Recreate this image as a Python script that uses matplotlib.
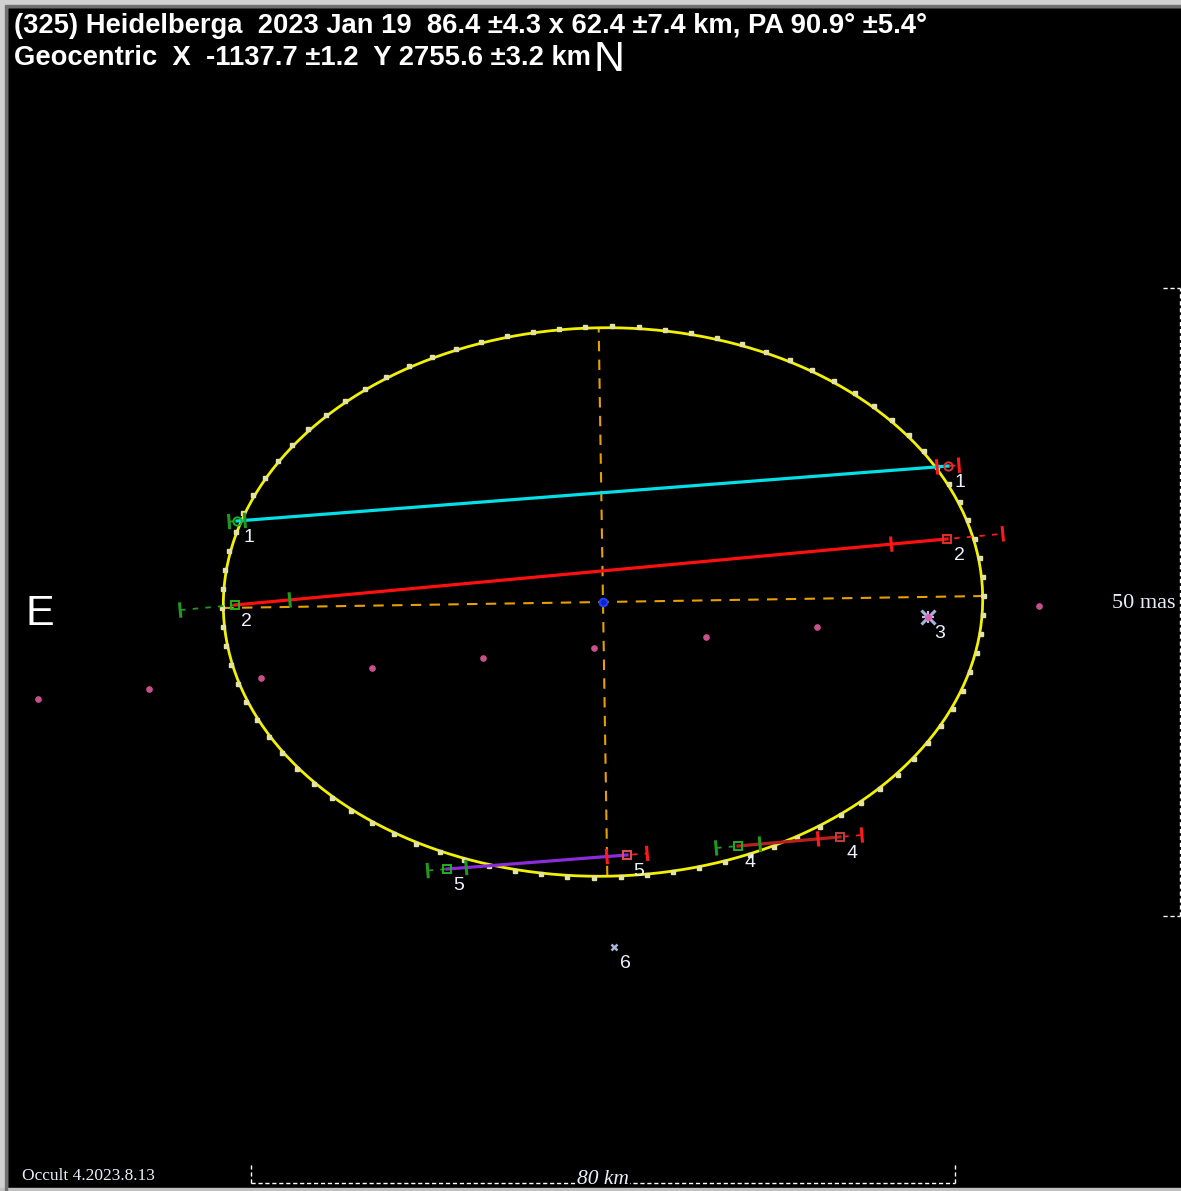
import numpy as np
import matplotlib
matplotlib.use('Agg')
import matplotlib.pyplot as plt
from matplotlib.patches import Rectangle

# ---- shape fit (km) ----
major_km = 86.4
minor_km = 62.4
pa_deg = 90.9

# ---- chords: disappearance / reappearance (km, west to the right, north up) ----
chord_ids = ['1', '2', '4', '5']
d_x = [-41.64, -41.87, 15.36, -17.75]
d_y = [9.22, -0.34, -27.76, -30.38]
r_x = [39.25, 39.14, 26.96, 2.73]
r_y = [15.47, 7.17, -26.73, -28.78]
d_err = [0.9, 6.26, 2.5, 2.2]
r_err = [1.25, 6.37, 2.5, 2.3]
chord_colors = ['#00e0e8', '#ff1010', '#b82020', '#8a2cd8']
end_marks = ['o', 's', 's', 's']
r_mark_colors = ['#e03030', '#e03030', '#c04040', '#e05050']

# ---- other observers ----
miss_ids = ['3', '6']
miss_x = [36.97, 1.25]
miss_y = [-1.71, -39.25]

# ---- star path points ----
path_x = [-64.28, -51.65, -38.91, -26.28, -13.65, -1.02, 11.72, 24.35, 36.97, 49.60]
path_y = [-11.04, -9.90, -8.65, -7.51, -6.37, -5.23, -3.98, -2.84, -1.71, -0.46]

# scale bars
km_bar = 80
mas_bar_km = 71.4

W, H = 1181, 1191
scale = 8.79          # px per km
cx, cy = 603, 602     # fit centre in px

fig = plt.figure(figsize=(W / 100, H / 100), dpi=100)
fig.patch.set_facecolor('black')
ax = fig.add_axes([0, 0, 1, 1])
ax.set_facecolor('black')
ax.set_xlim(-cx / scale, (W - cx) / scale)
ax.set_ylim((cy - H) / scale, cy / scale)
ax.axis('off')


def fpos(x, y):
    return x / W, 1 - y / H


# ellipse
a, b = major_km / 2, minor_km / 2
rot = np.radians(pa_deg - 90)
t = np.linspace(0, 2 * np.pi, 400)
ex = a * np.cos(t) * np.cos(rot) - b * np.sin(t) * np.sin(rot)
ey = a * np.cos(t) * np.sin(rot) + b * np.sin(t) * np.cos(rot)
ax.plot(ex, ey, color='#f2f200', lw=2.0, zorder=3)
tk = np.linspace(0, 2 * np.pi, 91)[:-1]
tx = (a + 0.15) * np.cos(tk) * np.cos(rot) - (b + 0.15) * np.sin(tk) * np.sin(rot)
ty = (a + 0.15) * np.cos(tk) * np.sin(rot) + (b + 0.15) * np.sin(tk) * np.cos(rot)
ax.plot(tx, ty, ls='none', marker='s', ms=3.4, color='#e2e2a4', zorder=4)

# axes of the ellipse
ax.plot([-a * np.cos(rot), a * np.cos(rot)], [-a * np.sin(rot), a * np.sin(rot)],
        color='#e8a000', lw=1.5, ls=(0, (5, 4)), zorder=2)
ax.plot([b * np.sin(rot), -b * np.sin(rot)], [-b * np.cos(rot), b * np.cos(rot)],
        color='#e8a000', lw=1.5, ls=(0, (5, 4)), zorder=2)
ax.plot([0], [0], marker='o', ms=5.5, mfc='#1020d0', mec='#2040ff', mew=1.5, zorder=6)

# path dots
ax.plot(path_x, path_y, ls='none', marker='o', ms=3.8, color='#c8508c', zorder=2)

# chords
for i in range(len(chord_ids)):
    p0 = np.array([d_x[i], d_y[i]])
    p1 = np.array([r_x[i], r_y[i]])
    u = (p1 - p0) / np.linalg.norm(p1 - p0)
    n = np.array([-u[1], u[0]]) * 0.7
    for p, err, col in [(p0, d_err[i], '#1f9a1f'), (p1, r_err[i], '#ff1a1a')]:
        lo, hi = p - err * u, p + err * u
        ax.plot([lo[0], hi[0]], [lo[1], hi[1]], color=col, lw=1.3, ls=(0, (3, 4)), zorder=5)
        for q in (lo, hi):
            ax.plot([q[0] - n[0], q[0] + n[0]], [q[1] - n[1], q[1] + n[1]],
                    color=col, lw=2.2, zorder=7)
    ax.plot([p0[0], p1[0]], [p0[1], p1[1]], color=chord_colors[i], lw=2.3, zorder=6)
    ax.plot(p0[0], p0[1], marker=end_marks[i], ms=6, mfc='none', mec='#1fb01f', mew=1.4, zorder=8)
    ax.plot(p1[0], p1[1], marker=end_marks[i], ms=6, mfc='none', mec=r_mark_colors[i], mew=1.4, zorder=8)
    for p in (p0, p1):
        ax.annotate(chord_ids[i], (p[0], p[1]), xytext=(8.6, -11.6), textcoords='offset points',
                    ha='center', va='center', color='#eef2ff', fontsize=14,
                    family='Liberation Sans', zorder=9)

# observers without a chord
ax.plot(miss_x[0], miss_y[0], marker='x', ms=10, mew=2.2, color='#a8b4dc', zorder=7)
ax.plot(miss_x[0], miss_y[0], marker='+', ms=9, mew=1.6, color='#b8c0e8', zorder=7)
ax.plot(miss_x[0], miss_y[0], marker='o', ms=4, color='#e060b0', zorder=8)
ax.plot(miss_x[1], miss_y[1], marker='x', ms=5, mew=1.8, color='#a8b4d8', zorder=7)
for i in range(len(miss_ids)):
    ax.annotate(miss_ids[i], (miss_x[i], miss_y[i]), xytext=(8.6, -11.6), textcoords='offset points',
                ha='center', va='center', color='#eef2ff', fontsize=14,
                family='Liberation Sans', zorder=9)

# km scale bar
yb = (cy - 1183) / scale
yt = (cy - 1163) / scale
ax.plot([-km_bar / 2, km_bar / 2], [yb, yb], color='white', lw=1, ls=(0, (3, 2)), zorder=5)
for xe in (-km_bar / 2, km_bar / 2):
    ax.plot([xe, xe], [yb, yt], color='white', lw=1, ls=(0, (3, 2)), zorder=5)
ax.text(0, (cy - 1180) / scale, '80 km', ha='center', va='center', color='#e8eef8',
        fontsize=15.5, family='Liberation Serif', style='italic',
        bbox=dict(facecolor='black', edgecolor='none', pad=1), zorder=6)

# mas scale bar
xv = (1180 - cx) / scale
xl = (1163 - cx) / scale
ax.plot([xv, xv], [-mas_bar_km / 2, mas_bar_km / 2], color='white', lw=1, ls=(0, (3, 2)), zorder=5)
for ye in (-mas_bar_km / 2, mas_bar_km / 2):
    ax.plot([xl, xv], [ye, ye], color='white', lw=1, ls=(0, (3, 2)), zorder=5)
ax.text((1112 - cx) / scale, (cy - 604) / scale, '50 mas', ha='left', va='center',
        color='#e8eef8', fontsize=16, family='Liberation Serif',
        bbox=dict(facecolor='black', edgecolor='none', pad=1), zorder=6)

# header text
hdr = dict(color='white', fontsize=19.7, fontweight='bold', family='Liberation Sans')
fig.text(*fpos(14, 26), '(325) Heidelberga  2023 Jan 19  86.4 \u00b14.3 x 62.4 \u00b17.4 km, PA 90.9\u00b0 \u00b15.4\u00b0',
         ha='left', va='center', **hdr)
fig.text(*fpos(14, 58), 'Geocentric  X  -1137.7 \u00b11.2  Y 2755.6 \u00b13.2 km',
         ha='left', va='center', **hdr)
fig.text(*fpos(609, 60), 'N', ha='center', va='center', color='white', fontsize=31, family='Liberation Sans')
fig.text(*fpos(40, 614), 'E', ha='center', va='center', color='white', fontsize=31, family='Liberation Sans')
fig.text(*fpos(22, 1176), 'Occult 4.2023.8.13', ha='left', va='center', color='#e8eef8',
         fontsize=12.5, family='Liberation Serif')

# window frame
fig.add_artist(Rectangle((0, 0), 7 / W, 1, transform=fig.transFigure, color='#d0d0d0', zorder=20))
fig.add_artist(Rectangle((5 / W, 0), 2 / W, 1 - 7 / H, transform=fig.transFigure, color='#707070', zorder=21))
fig.add_artist(Rectangle((0, 1 - 7 / H), 1, 7 / H, transform=fig.transFigure, color='#d0d0d0', zorder=20))
fig.add_artist(Rectangle((5 / W, 1 - 7 / H), 1, 2 / H, transform=fig.transFigure, color='#707070', zorder=21))
fig.add_artist(Rectangle((0, 0), 1, 3 / H, transform=fig.transFigure, color='#c0c0c0', zorder=20))

fig.savefig('out.png', dpi=100, facecolor='black')
